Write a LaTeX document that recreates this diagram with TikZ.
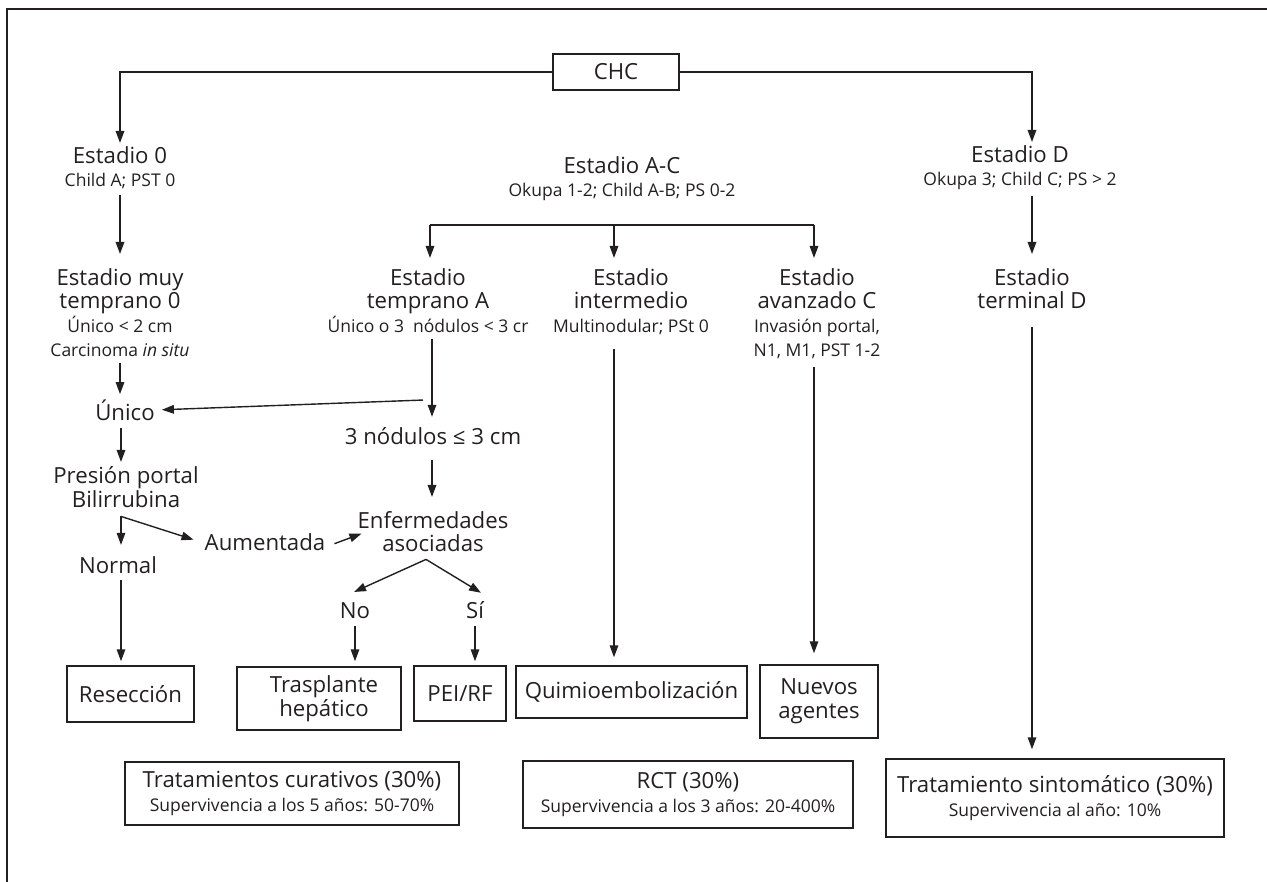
\documentclass[tikz,border=0pt]{standalone}
\usepackage{fontspec}
\setmainfont{Open Sans}
\usetikzlibrary{arrows.meta,calc}
\definecolor{ink}{RGB}{35,31,32}
\newcommand\Lf{\fontsize{22.2}{23.8}\selectfont}
\newcommand\Sf{\fontsize{17.5}{18.5}\selectfont}
\begin{document}
\begin{tikzpicture}[x=1pt,y=-1pt,
  txt/.style={inner sep=0pt, align=center, font=\Lf, text=ink, anchor=north},
  stxt/.style={inner sep=0pt, font=\Lf, text=ink, anchor=base},
  boxn/.style={draw=ink, line width=1.4pt, inner sep=0pt, align=center, font=\Lf, text=ink},
  arr/.style={draw=ink, line width=1.4pt, -{Triangle[length=12pt,width=8.5pt]}},
  ln/.style={draw=ink, line width=1.4pt}]
\useasboundingbox (0,0) rectangle (1267,882);
\draw[ln, line width=1.8pt] (7,882) -- (7,9) -- (1267,9);

% boxes
\node[boxn, minimum width=126, minimum height=36] (chc) at (616,72) {CHC};
\node[boxn, minimum width=127, minimum height=56] (res) at (130.5,694) {Resección};
\node[boxn, minimum width=164, minimum height=63] (tras) at (319,698.5) {\hspace*{10pt}Trasplante\\\hspace*{10pt}hepático};
\node[boxn, minimum width=92, minimum height=55] (pei) at (460,693.5) {PEI/RF};
\node[boxn, minimum width=231, minimum height=52] (quimio) at (631.5,692) {Quimioembolización};
\node[boxn, minimum width=118, minimum height=73] (nuevos) at (819,701.5) {Nuevos\\agentes};
\node[boxn, minimum width=334, minimum height=63] (cur) at (292,793.5) {Tratamientos curativos (30\%)\\\Sf Supervivencia a los 5 años: 50-70\%};
\node[boxn, minimum width=330, minimum height=67] (rct) at (688,794.5) {RCT (30\%)\\\Sf Supervivencia a los 3 años: 20-400\%};
\node[boxn, minimum width=338, minimum height=78] (sint) at (1055,798) {Tratamiento sintomático (30\%)\\\Sf Supervivencia al año: 10\%};

% text nodes
\node[txt] (e0) at (120,146) {Estadio 0\\\Sf Child A; PST 0};
\node[txt] (eD) at (1020,145) {Estadio D\\\Sf Okupa 3; Child C; PS > 2};
\node[txt] (eAC) at (622,156) {Estadio A-C\\\Sf Okupa 1-2; Child A-B; PS 0-2};
\node[txt] (eMT) at (120,268) {Estadio muy\\temprano 0\\\Sf Único < 2 cm\\\Sf Carcinoma \textit{in situ}};
\node[txt] (eTA) at (428,268) {Estadio\\temprano A\\\Sf Único o 3\ \ nódulos < 3 cr};
\node[txt] (eI) at (631,268) {Estadio\\intermedio\\\Sf Multinodular; PSt 0};
\node[txt] (eAv) at (817,268) {Estadio\\avanzado C\\\Sf Invasión portal,\\\Sf N1, M1, PST 1-2};
\node[txt] (eTD) at (1032,268) {Estadio\\terminal D};
\node[stxt] (unico) at (125,421) {Único};
\node[stxt] (n3) at (433,445) {3 nódulos ≤ 3 cm};
\node[txt] (pp) at (126,466) {Presión portal\\Bilirrubina};
\node[stxt] (normal) at (118,573) {Normal};
\node[stxt] (aum) at (265,550) {Aumentada};
\node[txt] (enf) at (433,511) {Enfermedades\\asociadas};
\node[stxt] (no) at (355,618) {No};
\node[stxt] (si) at (475,618) {Sí};

% connectors
\draw[arr] (chc.west) -| ($(e0.north)+(0,-3)$);
\draw[arr] (chc.east) -| ($(eD.north)+(12,-3)$);
\draw[arr] ($(e0.south)+(0,6)$) -- ($(eMT.north)+(0,-14)$);
\draw[arr] ($(eD.south)+(12,6)$) -- ($(eTD.north)+(0,-14)$);

\coordinate (brL) at (430,225);
\coordinate (brM) at (614,225);
\coordinate (brR) at (814,225);
\draw[ln] (brL) -- (brR);
\draw[arr] (brL) -- ($(brL |- eTA.north)+(0,-10)$);
\draw[arr] (brM) -- ($(brM |- eI.north)+(0,-10)$);
\draw[arr] (brR) -- ($(brR |- eAv.north)+(0,-10)$);

\draw[arr] ($(eMT.south)+(0,6)$) -- ($(unico.north -| eMT.south)+(0,-6)$);
\draw[arr] ($(eTA.south)+(4,6)$) -- ($(n3.north)+(-1,-11)$);
\draw[arr] ($(eTA.south)+(-5,67)$) -- ($(unico.east)+(7,-1)$);
\draw[arr] ($(unico.south)+(-4,7)$) -- ($(pp.north)+(-5,-4)$);
\draw[arr] ($(n3.south)+(-1,15)$) -- ($(enf.north)+(-1,-14)$);

\coordinate (ppf) at ($(pp.south)+(-5,9)$);
\draw[arr] (ppf) -- ($(normal.north)+(3,-11)$);
\draw[arr] (ppf) -- ($(aum.west)+(-11,-2)$);
\draw[arr] ($(aum.east)+(9,2)$) -- ($(enf.west)+(4,2)$);

\coordinate (enff) at ($(enf.south)+(-7,7)$);
\draw[arr] (enff) -- ($(no.north)+(-1,-10)$);
\draw[arr] (enff) -- ($(si.north)+(6,-8)$);

\draw[arr] ($(no.south)+(0,8)$) -- ($(no.south |- tras.north)+(0,-5)$);
\draw[arr] ($(si.south)+(0,8)$) -- ($(si.south |- pei.north)+(0,-4)$);
\draw[arr] ($(normal.south)+(3,7)$) -- ($(normal.south |- res.north)+(3,-4)$);
\draw[arr] ($(eI.south)+(-17,14)$) -- ($(eI.south |- quimio.north)+(-17,-8)$);
\draw[arr] ($(eAv.south)+(-3,8)$) -- ($(eAv.south |- nuevos.north)+(-3,-11)$);
\draw[arr] ($(eTD.south)+(0,18)$) -- ($(eTD.south |- sint.north)+(0,-9)$);
\end{tikzpicture}
\end{document}
